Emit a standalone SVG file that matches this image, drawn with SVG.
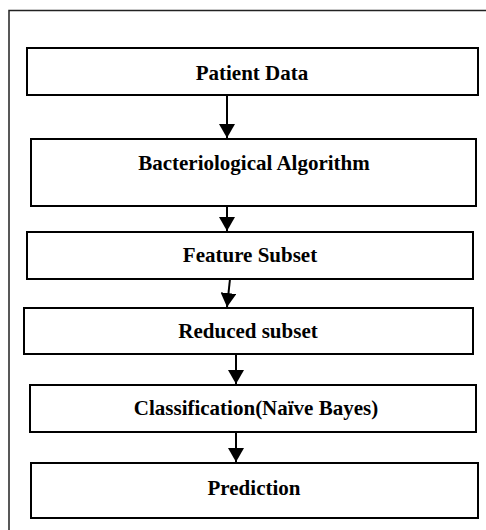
<svg xmlns="http://www.w3.org/2000/svg" width="486" height="530" viewBox="0 0 486 530">
<style>
.box{fill:#fff;stroke:#000;stroke-width:2}
.lbl{font-family:"Liberation Serif","Times New Roman",serif;font-weight:bold;font-size:21px;fill:#000;text-anchor:middle}
.conn{stroke:#000;stroke-width:2;fill:none;marker-end:url(#ah)}
</style>
<defs>
<marker id="ah" markerUnits="userSpaceOnUse" markerWidth="15" markerHeight="16" refX="14" refY="8" orient="auto" viewBox="0 0 15 16">
<path d="M0,0 L14,8 L0,16 z" fill="#000"/>
</marker>
</defs>
<rect width="486" height="530" fill="#fff"/>
<path d="M9,530 L9,10.5 L486,10.5" fill="none" stroke="#222" stroke-width="1.5"/>
<g id="n1"><rect class="box" x="27" y="48" width="451" height="47"/><text class="lbl" x="252" y="80">Patient Data</text></g>
<g id="n2"><rect class="box" x="31" y="139" width="445" height="67"/><text class="lbl" x="254" y="170">Bacteriological Algorithm</text></g>
<g id="n3"><rect class="box" x="27" y="232" width="446" height="47"/><text class="lbl" x="250" y="262">Feature Subset</text></g>
<g id="n4"><rect class="box" x="24" y="308" width="449" height="46"/><text class="lbl" x="248" y="338">Reduced subset</text></g>
<g id="n5"><rect class="box" x="30" y="385" width="446" height="47"/><text class="lbl" x="256" y="415">Classification(Naïve Bayes)</text></g>
<g id="n6"><rect class="box" x="31" y="463" width="447" height="55"/><text class="lbl" x="254" y="495">Prediction</text></g>
<g id="connectors">
<path class="conn" d="M227,95 L227,138"/>
<path class="conn" d="M227,206 L227,231"/>
<path class="conn" d="M230,279 L227,307"/>
<path class="conn" d="M236,354 L236,384"/>
<path class="conn" d="M236,432 L236,462"/>
</g>
</svg>
